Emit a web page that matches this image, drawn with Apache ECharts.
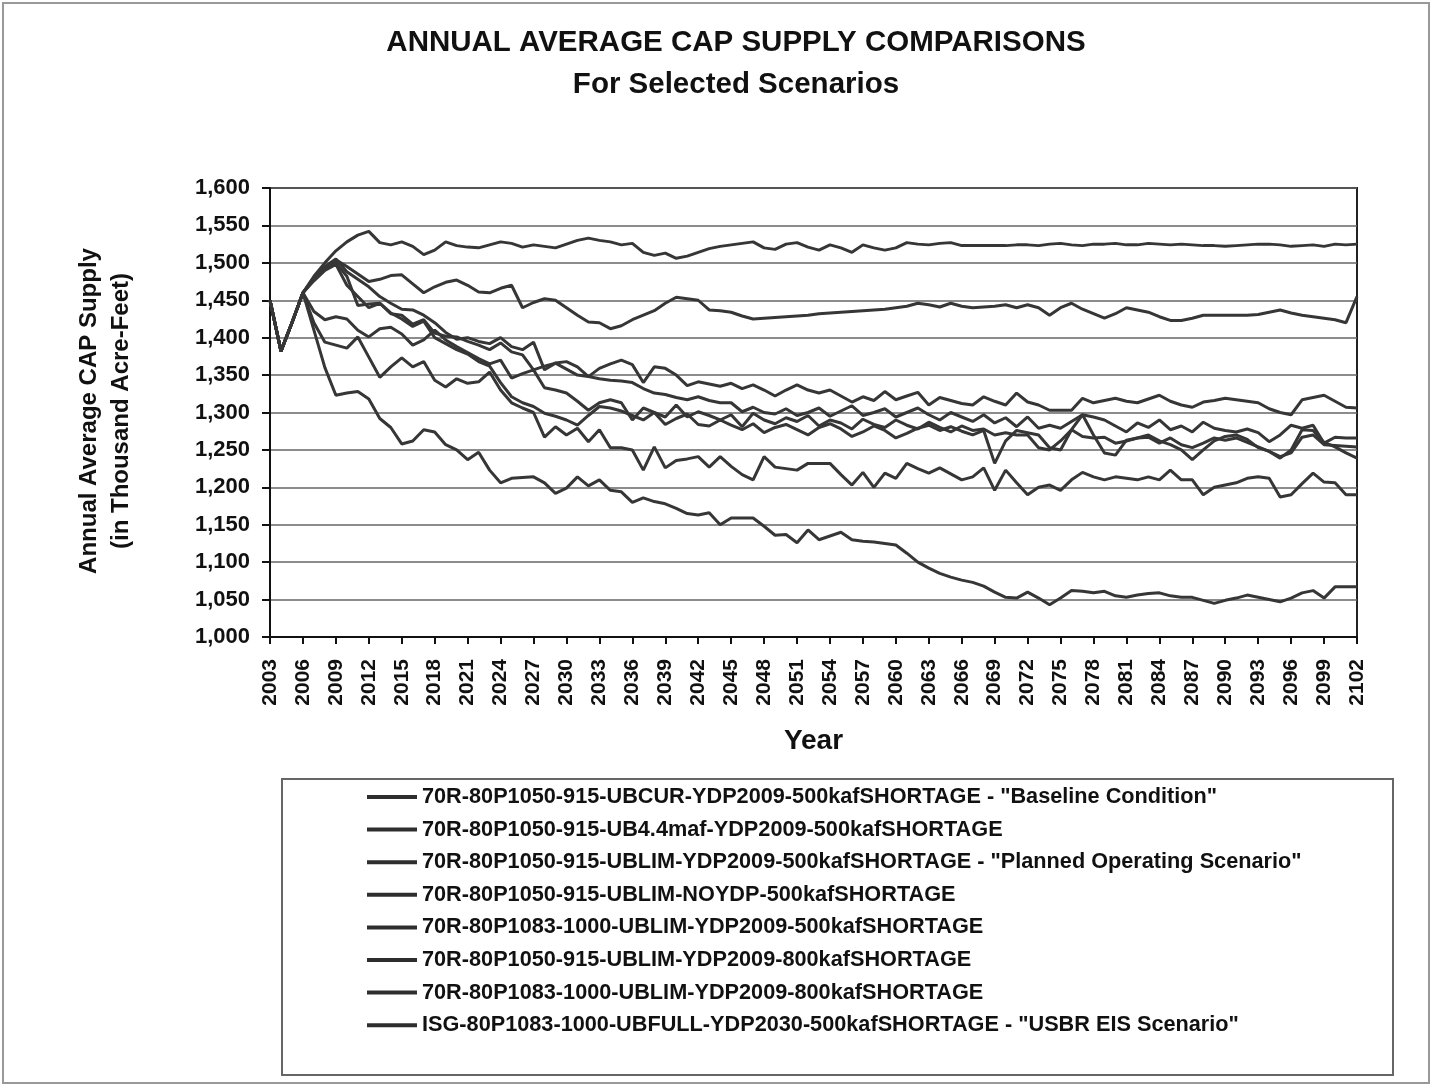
<!DOCTYPE html>
<html>
<head>
<meta charset="utf-8">
<title>Annual Average CAP Supply Comparisons</title>
<script src="https://cdn.jsdelivr.net/npm/echarts@6/dist/echarts.min.js"></script>
<style>
    html, body { margin: 0; padding: 0; background: #fff; }
    #contain { width: 1433px; height: 1087px; }
</style>
</head>
<body>
<div id="contain"></div>
<script>
// years 2003 .. 2102, one value per year
let firstYear = 2003;

let baseline = [
    1450,1382,1420,1460,1482,1500,1516,1528,1537,1542,
    1527,1524,1528,1522,1511,1517,1528,1523,1521,1520,
    1524,1528,1526,1521,1524,1522,1520,1525,1530,1533,
    1530,1528,1524,1526,1514,1510,1513,1506,1509,1514,
    1519,1522,1524,1526,1528,1520,1518,1525,1527,1521,
    1517,1524,1520,1514,1524,1520,1517,1520,1527,1525,
    1524,1526,1527,1523,1523,1523,1523,1523,1524,1524,
    1523,1525,1526,1524,1523,1525,1525,1526,1524,1524,
    1526,1525,1524,1525,1524,1523,1523,1522,1523,1524,
    1525,1525,1524,1522,1523,1524,1522,1525,1524,1525
];
let ub44maf = [
    1450,1382,1420,1460,1478,1493,1504,1495,1485,1475,
    1478,1483,1484,1472,1460,1468,1474,1477,1470,1461,
    1460,1466,1470,1440,1447,1452,1450,1440,1430,1421,
    1420,1412,1416,1424,1430,1436,1446,1454,1452,1450,
    1437,1436,1434,1429,1425,1426,1427,1428,1429,1430,
    1432,1433,1434,1435,1436,1437,1438,1440,1442,1446,
    1444,1441,1446,1442,1440,1441,1442,1444,1440,1444,
    1440,1430,1440,1446,1438,1432,1426,1432,1440,1437,
    1434,1428,1423,1423,1426,1430,1430,1430,1430,1430,
    1431,1434,1437,1433,1430,1428,1426,1424,1420,1455
];
let planned = [
    1450,1382,1420,1460,1480,1495,1505,1488,1478,1468,
    1455,1446,1438,1437,1430,1420,1407,1398,1400,1395,
    1392,1400,1388,1384,1394,1357,1366,1368,1361,1348,
    1359,1365,1370,1364,1340,1361,1359,1350,1336,1341,
    1338,1335,1339,1332,1337,1330,1322,1330,1337,1330,
    1326,1330,1322,1314,1321,1316,1328,1317,1322,1327,
    1310,1320,1316,1312,1310,1321,1315,1310,1326,1314,
    1310,1303,1303,1303,1319,1313,1316,1319,1315,1313,
    1318,1323,1315,1310,1307,1314,1316,1319,1317,1315,
    1313,1305,1300,1297,1317,1320,1323,1315,1307,1306
];
let noYdp = [
    1450,1382,1420,1460,1478,1492,1500,1482,1443,1445,
    1446,1432,1430,1418,1424,1406,1402,1401,1395,1390,
    1384,1393,1381,1377,1357,1362,1366,1358,1350,1348,
    1345,1343,1342,1340,1332,1326,1324,1320,1317,1321,
    1316,1313,1313,1301,1307,1300,1298,1305,1296,1300,
    1306,1295,1302,1309,1296,1300,1305,1294,1300,1306,
    1297,1290,1300,1294,1288,1297,1286,1293,1281,1294,
    1279,1283,1279,1288,1297,1294,1290,1282,1274,1286,
    1280,1290,1277,1282,1274,1287,1279,1276,1274,1278,
    1273,1261,1270,1283,1279,1283,1259,1267,1266,1266
];
let p1083 = [
    1450,1382,1420,1460,1435,1424,1428,1425,1410,1401,
    1412,1414,1405,1390,1397,1410,1397,1388,1380,1372,
    1365,1370,1346,1352,1357,1333,1330,1326,1315,1303,
    1313,1317,1313,1290,1306,1300,1294,1310,1294,1301,
    1296,1290,1297,1281,1299,1290,1285,1293,1288,1296,
    1282,1290,1286,1278,1291,1284,1280,1290,1283,1278,
    1287,1280,1274,1282,1276,1278,1270,1273,1270,1270,
    1253,1250,1262,1277,1297,1270,1246,1243,1263,1266,
    1267,1259,1266,1257,1253,1259,1266,1263,1266,1260,
    1254,1248,1241,1246,1267,1270,1257,1256,1255,1254
];
let short800 = [
    1450,1382,1420,1460,1476,1490,1498,1470,1455,1440,
    1446,1433,1425,1415,1422,1400,1392,1384,1378,1368,
    1362,1340,1321,1313,1308,1299,1295,1290,1283,1296,
    1308,1306,1302,1296,1290,1300,1284,1292,1298,1284,
    1282,1290,1283,1277,1285,1273,1280,1284,1277,1270,
    1280,1285,1278,1268,1274,1282,1276,1266,1272,1279,
    1283,1276,1281,1275,1270,1276,1232,1262,1276,1273,
    1270,1253,1250,1277,1268,1266,1267,1259,1262,1266,
    1270,1262,1257,1250,1237,1250,1262,1268,1270,1264,
    1253,1248,1239,1250,1277,1276,1260,1254,1246,1239
];
let p1083short800 = [
    1450,1382,1420,1460,1420,1394,1390,1386,1401,1374,
    1347,1361,1373,1361,1368,1343,1334,1345,1339,1341,
    1354,1330,1313,1306,1300,1267,1281,1270,1279,1261,
    1277,1253,1253,1250,1223,1254,1226,1236,1238,1241,
    1227,1241,1228,1217,1210,1241,1227,1225,1223,1232,
    1232,1232,1217,1203,1220,1200,1219,1212,1232,1225,
    1219,1226,1218,1210,1214,1226,1196,1223,1206,1190,
    1200,1203,1196,1210,1220,1214,1210,1214,1212,1210,
    1214,1210,1223,1210,1210,1190,1200,1203,1206,1212,
    1214,1212,1187,1190,1205,1219,1207,1206,1190,1190
];
let usbrEis = [
    1450,1382,1420,1460,1410,1360,1323,1326,1328,1318,
    1292,1280,1258,1262,1277,1274,1257,1250,1237,1247,
    1223,1206,1212,1213,1214,1206,1192,1199,1214,1202,
    1210,1196,1194,1180,1186,1181,1178,1172,1165,1163,
    1166,1150,1159,1159,1159,1148,1136,1137,1126,1143,
    1130,1135,1140,1130,1128,1127,1125,1123,1112,1100,
    1092,1085,1080,1076,1073,1068,1060,1053,1052,1060,
    1052,1043,1052,1062,1061,1059,1061,1055,1053,1056,
    1058,1059,1055,1053,1053,1049,1045,1049,1052,1056,
    1053,1050,1047,1052,1059,1062,1052,1067,1067,1067
];

let scenarioNames = [
    '70R-80P1050-915-UBCUR-YDP2009-500kafSHORTAGE - "Baseline Condition"',
    '70R-80P1050-915-UB4.4maf-YDP2009-500kafSHORTAGE',
    '70R-80P1050-915-UBLIM-YDP2009-500kafSHORTAGE - "Planned Operating Scenario"',
    '70R-80P1050-915-UBLIM-NOYDP-500kafSHORTAGE',
    '70R-80P1083-1000-UBLIM-YDP2009-500kafSHORTAGE',
    '70R-80P1050-915-UBLIM-YDP2009-800kafSHORTAGE',
    '70R-80P1083-1000-UBLIM-YDP2009-800kafSHORTAGE',
    'ISG-80P1083-1000-UBFULL-YDP2030-500kafSHORTAGE - "USBR EIS Scenario"'
];
let scenarioValues = [baseline, ub44maf, planned, noYdp, p1083, short800, p1083short800, usbrEis];

let years = [];
for (let i = 0; i < baseline.length; i++) {
    years.push(String(firstYear + i));
}

let font = '"Liberation Sans", Arial, sans-serif';

let seriesList = [];
for (let i = 0; i < scenarioNames.length; i++) {
    seriesList.push({
        name: scenarioNames[i],
        type: 'line',
        data: scenarioValues[i],
        symbol: 'none',
        color: '#2e2e2e',
        lineStyle: { color: '#363636', width: 3 }
    });
}

let chart = echarts.init(document.getElementById('contain'));
let option = {
    backgroundColor: '#fff',
    animation: false,
    title: {
        text: 'ANNUAL AVERAGE CAP SUPPLY COMPARISONS\nFor Selected Scenarios',
        left: 731,
        top: 17,
        textAlign: 'center',
        textStyle: { fontFamily: font, fontSize: 29.5, fontWeight: 'bold', color: '#111', lineHeight: 42 }
    },
    grid: {
        left: 270, right: 76, top: 188, bottom: 450,
        show: true, borderColor: '#222', borderWidth: 2
    },
    legend: {
        orient: 'vertical',
        left: 362,
        top: 781,
        data: scenarioNames,
        icon: 'rect',
        itemWidth: 50,
        itemHeight: 4,
        itemGap: 10.6,
        textStyle: { fontFamily: font, fontSize: 21.7, fontWeight: 'bold', color: '#111', lineHeight: 21.7 }
    },
    xAxis: {
        type: 'category',
        data: years,
        boundaryGap: false,
        name: 'Year',
        nameLocation: 'middle',
        nameGap: 90,
        nameTextStyle: { fontFamily: font, fontSize: 28, fontWeight: 'bold', color: '#111' },
        axisLine: { lineStyle: { color: '#111', width: 2 } },
        axisTick: { interval: 2, length: 7, lineStyle: { color: '#111', width: 2 } },
        axisLabel: { interval: 2, rotate: 90, margin: 22, fontFamily: font, fontSize: 21, fontWeight: 'bold', color: '#111' },
        splitLine: { show: false }
    },
    yAxis: {
        type: 'value',
        min: 1000,
        max: 1600,
        interval: 50,
        axisLine: { show: true, lineStyle: { color: '#111', width: 2 } },
        axisTick: { show: true, length: 8, lineStyle: { color: '#111', width: 2 } },
        axisLabel: {
            margin: 20, fontFamily: font, fontSize: 22, fontWeight: 'bold', color: '#111',
            formatter: function (v) { return v.toLocaleString('en-US'); }
        },
        splitLine: { lineStyle: { color: '#666', width: 1.5 } }
    },
    graphic: [
        {
            type: 'text', x: 105, y: 411, rotation: Math.PI / 2,
            style: {
                text: 'Annual Average CAP Supply\n(in Thousand Acre-Feet)',
                fill: '#111', font: 'bold 24px ' + font,
                textAlign: 'center', textVerticalAlign: 'middle', lineHeight: 32
            }
        },
        {
            type: 'rect', shape: { x: 282, y: 779, width: 1111, height: 296 },
            style: { fill: 'none', stroke: '#666', lineWidth: 2 }
        },
        {
            type: 'rect', shape: { x: 3, y: 3, width: 1426, height: 1080 },
            style: { fill: 'none', stroke: '#999', lineWidth: 2 }
        }
    ],
    series: seriesList
};
chart.setOption(option);
</script>
</body>
</html>
